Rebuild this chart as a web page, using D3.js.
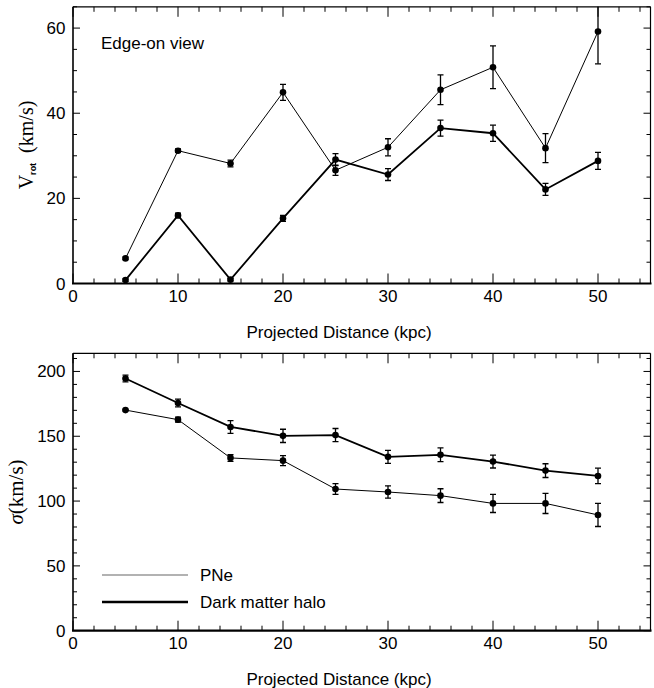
<!DOCTYPE html>
<html>
<head>
<meta charset="utf-8">
<script src="https://cdn.jsdelivr.net/npm/d3@7"></script>
<style>
body { margin: 0; background: #fff; }
text { font-family: "Liberation Sans", Arial, sans-serif; fill: #000; }
</style>
</head>
<body>
<div id="chart"></div>
<script>
// distances (kpc)
var dist = [5, 10, 15, 20, 25, 30, 35, 40, 45, 50];

// top panel: rotation velocity, edge-on view
var vrot_pne = [5.9, 31.2, 28.2, 44.9, 26.6, 32.0, 45.5, 50.8, 31.8, 59.2];
var vrot_pne_err = [0.3, 0.4, 0.8, 1.9, 1.2, 2.0, 3.5, 5.0, 3.4, 7.6];
var vrot_dm = [0.8, 16.0, 0.9, 15.3, 29.1, 25.6, 36.5, 35.3, 22.1, 28.8];
var vrot_dm_err = [0.3, 0.5, 0.3, 0.7, 1.4, 1.4, 1.9, 1.9, 1.4, 2.0];

// bottom panel: velocity dispersion
var sig_pne = [170.2, 162.8, 133.3, 131.2, 109.3, 107.0, 104.2, 98.2, 98.2, 89.3];
var sig_pne_err = [0.6, 1.9, 2.6, 3.9, 4.1, 4.8, 5.3, 7.0, 7.8, 8.9];
var sig_dm = [194.6, 175.7, 157.2, 150.3, 150.9, 134.1, 135.7, 130.5, 123.5, 119.4];
var sig_dm_err = [2.6, 3.0, 4.9, 5.1, 5.1, 5.0, 5.3, 5.0, 5.3, 6.0];

var x_ticks = [0, 10, 20, 30, 40, 50];
var top_y_ticks = [0, 20, 40, 60];
var bot_y_ticks = [0, 50, 100, 150, 200];

var W = 654, H = 688;
var svg = d3.select("#chart").append("svg").attr("width", W).attr("height", H);

function draw_panel(opts){
	var g = svg.append("g");
	var x = d3.scaleLinear().domain([0, 55]).range([73, 650.5]);
	var y = d3.scaleLinear().domain([0, opts.ymax]).range([opts.bottom, opts.top]);

	var clip_id = "clip" + Math.round(opts.top);
	g.append("clipPath").attr("id", clip_id)
		.append("rect").attr("x", x(0)).attr("y", y(opts.ymax))
		.attr("width", x(55) - x(0)).attr("height", y(0) - y(opts.ymax));

	// minor + major ticks (inside, on all four sides)
	d3.range(0, 55.01, 2).forEach(function(v){
		var len = (v % 10 == 0) ? 10 : 5;
		g.append("line").attr("x1", x(v)).attr("x2", x(v)).attr("y1", y(0)).attr("y2", y(0) - len)
			.attr("stroke", "#000").attr("stroke-width", 1);
		g.append("line").attr("x1", x(v)).attr("x2", x(v)).attr("y1", y(opts.ymax)).attr("y2", y(opts.ymax) + len)
			.attr("stroke", "#000").attr("stroke-width", 1);
	});
	d3.range(0, opts.ymax + 0.01, opts.minor).forEach(function(v){
		var len = (v % opts.major == 0) ? 7 : 4;
		g.append("line").attr("x1", x(0)).attr("x2", x(0) + len).attr("y1", y(v)).attr("y2", y(v))
			.attr("stroke", "#000").attr("stroke-width", 1);
		g.append("line").attr("x1", x(55)).attr("x2", x(55) - len).attr("y1", y(v)).attr("y2", y(v))
			.attr("stroke", "#000").attr("stroke-width", 1);
	});

	// frame
	g.append("line").attr("x1", x(0)).attr("x2", x(55)).attr("y1", y(opts.ymax)).attr("y2", y(opts.ymax))
		.attr("stroke", "#000").attr("stroke-width", 1.2);
	g.append("line").attr("x1", x(55)).attr("x2", x(55)).attr("y1", y(opts.ymax)).attr("y2", y(0))
		.attr("stroke", "#000").attr("stroke-width", 1.2);
	g.append("line").attr("x1", x(0)).attr("x2", x(0)).attr("y1", y(opts.ymax)).attr("y2", y(0))
		.attr("stroke", "#000").attr("stroke-width", 1.6);
	g.append("line").attr("x1", x(0) - 1).attr("x2", x(55) + 1).attr("y1", y(0)).attr("y2", y(0))
		.attr("stroke", "#000").attr("stroke-width", 2.2);

	// tick labels
	g.selectAll(".xl").data(x_ticks).enter().append("text")
		.attr("x", function(d){ return x(d); }).attr("y", y(0) + 18.5)
		.attr("text-anchor", "middle").style("font-size", "17px").text(function(d){ return d; });
	g.selectAll(".yl").data(opts.yticks).enter().append("text")
		.attr("x", 65.5).attr("y", function(d){ return y(d) + 6; })
		.attr("text-anchor", "end").style("font-size", "17px").text(function(d){ return d; });

	// x label
	g.append("text").attr("x", 339).attr("y", y(0) + 54)
		.attr("text-anchor", "middle").style("font-size", "17px").text("Projected Distance (kpc)");

	// series
	var data = g.append("g").attr("clip-path", "url(#" + clip_id + ")");
	opts.series.forEach(function(s){
		var pts = dist.map(function(d, i){ return {x: d, y: s.vals[i], e: s.errs[i]}; });
		var line = d3.line().x(function(d){ return x(d.x); }).y(function(d){ return y(d.y); });
		data.append("path").datum(pts).attr("d", line)
			.attr("fill", "none").attr("stroke", "#000").attr("stroke-width", s.width);
		pts.forEach(function(p){
			var lo = y(p.y - p.e), hi = y(p.y + p.e);
			data.append("line").attr("x1", x(p.x)).attr("x2", x(p.x)).attr("y1", lo).attr("y2", hi)
				.attr("stroke", "#000").attr("stroke-width", 1.3);
			[lo, hi].forEach(function(yy){
				data.append("line").attr("x1", x(p.x) - 3).attr("x2", x(p.x) + 3).attr("y1", yy).attr("y2", yy)
					.attr("stroke", "#000").attr("stroke-width", 1.3);
			});
			data.append("circle").attr("cx", x(p.x)).attr("cy", y(p.y)).attr("r", 3.3).attr("fill", "#000");
		});
	});
	return {x: x, y: y, g: g};
}

var top_panel = draw_panel({
	top: 6.8, bottom: 283.5, ymax: 65, minor: 5, major: 20, yticks: top_y_ticks,
	series: [
		{vals: vrot_pne, errs: vrot_pne_err, width: 1},
		{vals: vrot_dm, errs: vrot_dm_err, width: 1.8}
	]
});
var bot_panel = draw_panel({
	top: 353.3, bottom: 630.7, ymax: 214, minor: 10, major: 50, yticks: bot_y_ticks,
	series: [
		{vals: sig_pne, errs: sig_pne_err, width: 1},
		{vals: sig_dm, errs: sig_dm_err, width: 1.8}
	]
});

// panel annotation
svg.append("text").attr("x", 101).attr("y", 49).style("font-size", "17px").text("Edge-on view");

// y labels (serif, TeX-like)
var yl1 = svg.append("text").attr("transform", "translate(33,145) rotate(-90)")
	.attr("text-anchor", "middle")
	.style("font-family", "'Liberation Serif', 'DejaVu Serif', serif").style("font-size", "20px");
yl1.append("tspan").text("V");
yl1.append("tspan").attr("dy", 3).style("font-size", "9px").style("font-weight", "bold")
	.style("font-family", "'Liberation Sans', Arial, sans-serif").text("rot");
yl1.append("tspan").attr("dy", -3).text("\u2002(km/s)");

svg.append("text").attr("transform", "translate(23,492) rotate(-90)")
	.attr("text-anchor", "middle")
	.style("font-family", "'Liberation Serif', 'DejaVu Serif', serif").style("font-size", "21px")
	.html("<tspan font-style='italic'>\u03c3</tspan>(km/s)");

// legend
var legend = [
	{label: "PNe", width: 1.2, y: 575},
	{label: "Dark matter halo", width: 2.4, y: 602}
];
legend.forEach(function(l){
	svg.append("line").attr("x1", 102).attr("x2", 188).attr("y1", l.y).attr("y2", l.y)
		.attr("stroke", l.width < 2 ? "#666" : "#000").attr("stroke-width", l.width);
	svg.append("text").attr("x", 200).attr("y", l.y + 6).style("font-size", "17px").text(l.label);
});
</script>
</body>
</html>
